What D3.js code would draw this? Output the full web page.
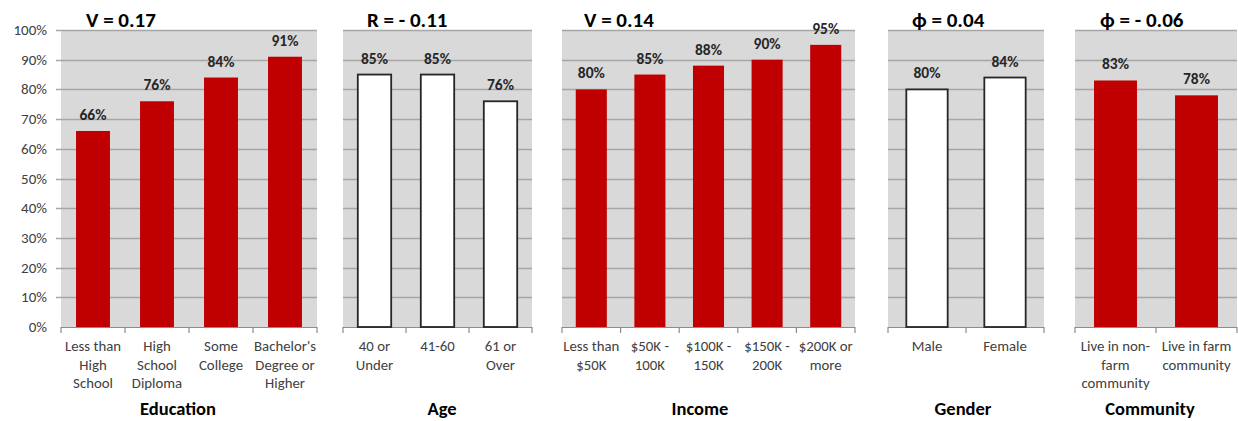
<!DOCTYPE html>
<html>
<head>
<meta charset="utf-8">
<script src="https://cdn.jsdelivr.net/npm/d3@7"></script>
<style>
  html, body { margin: 0; padding: 0; background: #fff; }
  svg { display: block; font-family: Carlito, Lato, "Open Sans", sans-serif; }
</style>
</head>
<body>
<svg id="chart" width="1238" height="421"></svg>
<script>
// Share of respondents (%) by group, with the association statistic per group
const educationCats = [["Less than", "High", "School"], ["High", "School", "Diploma"], ["Some", "College"], ["Bachelor's", "Degree or", "Higher"]];
const educationVals = [66, 76, 84, 91];

const ageCats = [["40 or", "Under"], ["41-60"], ["61 or", "Over"]];
const ageVals = [85, 85, 76];

const incomeCats = [["Less than", "$50K"], ["$50K -", "100K"], ["$100K -", "150K"], ["$150K -", "200K"], ["$200K or", "more"]];
const incomeVals = [80, 85, 88, 90, 95];

const genderCats = [["Male"], ["Female"]];
const genderVals = [80, 84];

const communityCats = [["Live in non-", "farm", "community"], ["Live in farm", "community"]];
const communityVals = [83, 78];

const groupNames = ["Education", "Age", "Income", "Gender", "Community"];
const statLabels = ["V = 0.17", "R = - 0.11", "V = 0.14", "\u03D5 = 0.04", "\u03D5 = - 0.06"];
const yTicks = [0, 10, 20, 30, 40, 50, 60, 70, 80, 90, 100];

// Panel layout (pixels)
const panels = [
  { cats: educationCats, vals: educationVals, x0: 61,  x1: 317,  fill: "#c00000", titleX: 86,   axisX: 178 },
  { cats: ageCats,       vals: ageVals,       x0: 343, x1: 532,  fill: "#ffffff", titleX: 367,  axisX: 442 },
  { cats: incomeCats,    vals: incomeVals,    x0: 562, x1: 855,  fill: "#c00000", titleX: 584,  axisX: 700 },
  { cats: genderCats,    vals: genderVals,    x0: 888, x1: 1044, fill: "#ffffff", titleX: 912,  axisX: 963 },
  { cats: communityCats, vals: communityVals, x0: 1075, x1: 1237, fill: "#c00000", titleX: 1100, axisX: 1150 }
];
const plotTop = 30, plotBottom = 327;

const svg = d3.select("#chart");
const y = d3.scaleLinear().domain([0, 100]).range([plotBottom, plotTop]);

panels.forEach((p, i) => {
  const g = svg.append("g");
  const x = d3.scaleBand()
    .domain(p.cats.map((c, j) => j))
    .range([p.x0, p.x1])
    .paddingInner(0.47)
    .paddingOuter(0.235);

  // plot background
  g.append("rect")
    .attr("x", p.x0).attr("y", plotTop)
    .attr("width", p.x1 - p.x0).attr("height", plotBottom - plotTop)
    .attr("fill", "#d9d9d9");

  // horizontal gridlines
  g.selectAll("line.grid").data(yTicks.filter(t => t > 0)).enter().append("line")
    .attr("x1", i === 0 ? p.x0 - 5 : p.x0).attr("x2", p.x1)
    .attr("y1", d => Math.round(y(d)) + 0.5).attr("y2", d => Math.round(y(d)) + 0.5)
    .attr("stroke", "#a6a6a6").attr("stroke-width", 1.3);

  // y-axis tick labels only on the first panel
  if (i === 0) {
    g.selectAll("text.ytick").data(yTicks).enter().append("text")
      .attr("x", 47).attr("y", d => y(d) + 5)
      .attr("text-anchor", "end")
      .attr("font-size", 15).attr("fill", "#404040")
      .text(d => d + "%");
  }

  // bottom category axis
  const xAxis = d3.axisBottom(x).tickSize(0).tickFormat("");
  const ax = g.append("g").attr("transform", `translate(0,${plotBottom})`).call(xAxis);
  ax.select(".domain").attr("stroke", "#8c8c8c").attr("stroke-width", 1.2)
    .attr("d", `M${p.x0},0.5H${p.x1}`);
  const bounds = d3.range(p.cats.length + 1).map(j => p.x0 + j * (p.x1 - p.x0) / p.cats.length);
  ax.selectAll("line.sep").data(bounds).enter().append("line")
    .attr("x1", d => d).attr("x2", d => d).attr("y1", 0).attr("y2", 6)
    .attr("stroke", "#8c8c8c").attr("stroke-width", 1.2);

  // bars
  const white = p.fill === "#ffffff";
  g.selectAll("rect.bar").data(p.vals).enter().append("rect")
    .attr("x", (d, j) => x(j)).attr("width", x.bandwidth())
    .attr("y", d => y(d)).attr("height", d => plotBottom - y(d))
    .attr("fill", p.fill)
    .attr("stroke", white ? "#262626" : "none")
    .attr("stroke-width", white ? 1.8 : 0);

  // value labels
  g.selectAll("text.val").data(p.vals).enter().append("text")
    .attr("x", (d, j) => x(j) + x.bandwidth() / 2)
    .attr("y", d => y(d) - 11)
    .attr("text-anchor", "middle")
    .attr("font-size", 15.5).attr("font-weight", "bold").attr("fill", "#262626")
    .text(d => d + "%");

  // category labels (multi-line)
  const cl = g.selectAll("text.cat").data(p.cats).enter().append("text")
    .attr("text-anchor", "middle")
    .attr("font-size", 14.8).attr("fill", "#404040");
  cl.each(function (lines, j) {
    const t = d3.select(this);
    lines.forEach((ln, k) => {
      t.append("tspan")
        .attr("x", x(j) + x.bandwidth() / 2)
        .attr("y", 351 + k * 18.5)
        .text(ln);
    });
  });

  // statistic heading
  g.append("text")
    .attr("x", p.titleX).attr("y", 27)
    .attr("font-size", 21).attr("font-weight", "bold").attr("fill", "#000")
    .text(statLabels[i]);

  // group title
  g.append("text")
    .attr("x", p.axisX).attr("y", 415)
    .attr("text-anchor", "middle")
    .attr("font-size", 18.5).attr("font-weight", "bold").attr("fill", "#000")
    .text(groupNames[i]);
});
</script>
</body>
</html>
